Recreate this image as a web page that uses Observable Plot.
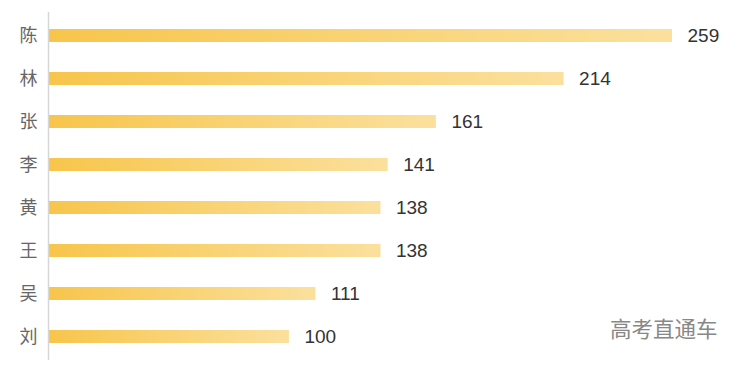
<!DOCTYPE html>
<html><head><meta charset="utf-8">
<script src="https://cdn.jsdelivr.net/npm/d3@7"></script>
<script src="https://cdn.jsdelivr.net/npm/@observablehq/plot@0.6"></script>
<style>
body{margin:0;background:#fff;}
#chart svg{display:block;font-family:"Liberation Sans","Helvetica Neue",Arial,"Noto Sans CJK SC",sans-serif;}
</style>
</head><body><div id="chart"></div>
<script>
const names = ["陈","林","张","李","黄","王","吴","刘"];
const counts = [259,214,161,141,138,138,111,100];
const watermark = "高考直通车";

const data = names.map((n,i)=>({name:n, value:counts[i]}));

const chart = Plot.plot({
  width: 745, height: 369,
  marginLeft: 48, marginRight: 73, marginTop: 12, marginBottom: 9,
  style: {fontFamily: '"Liberation Sans","Helvetica Neue",Arial,"Noto Sans CJK SC",sans-serif'},
  x: {domain: [0, 259], axis: null},
  y: {domain: names, paddingInner: 0.7, paddingOuter: 0.356, label: null},
  marks: [
    () => {
      const svg = d3.create("svg:defs");
      const g = svg.append("linearGradient").attr("id","barGrad").attr("x1","0").attr("x2","1").attr("y1","0").attr("y2","0");
      g.append("stop").attr("offset","0%").attr("stop-color","#f7c54b");
      g.append("stop").attr("offset","100%").attr("stop-color","#fbe09d");
      return svg.node();
    },
    Plot.barX(data, {y: "name", x: "value", fill: "url(#barGrad)"}),
    Plot.ruleX([0], {stroke: "#d6d6d6", strokeWidth: 1.5}),
    Plot.axisY({tickSize: 0, tickPadding: 11, fontSize: 18, color: "#666", label: null}),
    Plot.text(data, {y: "name", x: "value", text: d => String(d.value), dx: 15, textAnchor: "start", fontSize: 19, fill: "#333"}),
    Plot.text([watermark], {frameAnchor: "bottom-right", lineAnchor: "middle", dx: 45, dy: -30, textAnchor: "end", fontSize: 21.5, fill: "#888"})
  ]
});
document.getElementById("chart").append(chart);
</script>
</body></html>
